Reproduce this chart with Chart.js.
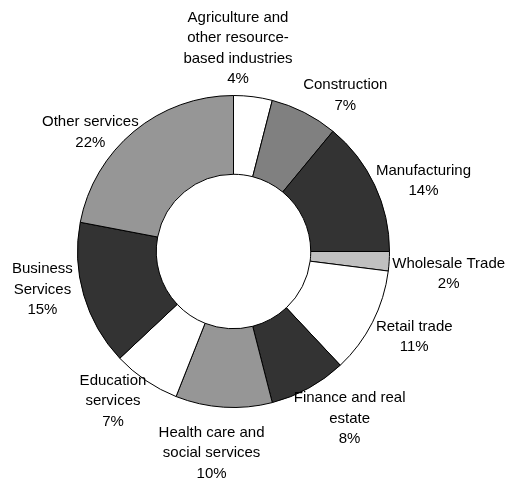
<!DOCTYPE html>
<html>
<head>
<meta charset="utf-8">
<script src="https://cdn.jsdelivr.net/npm/chart.js@4/dist/chart.umd.min.js"></script>
<style>
  html, body { margin: 0; padding: 0; background: #fff; }
  #wrap { width: 507px; height: 480px; position: relative; }
</style>
</head>
<body>
<div id="wrap"><canvas id="industryChart"></canvas></div>
<script>
// Share of employment by industry (%)
const industries = [
    ['Agriculture and', 'other resource-', 'based industries'],
    ['Construction'],
    ['Manufacturing'],
    ['Wholesale Trade'],
    ['Retail trade'],
    ['Finance and real', 'estate'],
    ['Health care and', 'social services'],
    ['Education', 'services'],
    ['Business', 'Services'],
    ['Other services']
];
const shares = [4, 7, 14, 2, 11, 8, 10, 7, 15, 22];
const sliceColors = ['#ffffff', '#808080', '#333333', '#c0c0c0', '#ffffff',
                     '#333333', '#969696', '#ffffff', '#333333', '#969696'];

// hand tweaks so labels sit where they read best
const labelNudge = [[-21, -1], [24, 16], [2, 18], [2, 9], [3, -5],
                    [15, -17], [-10, 12], [-8, -16], [-5, -16], [-14, 37]];

const outsideLabels = {
    id: 'outsideLabels',
    afterDatasetsDraw(chart) {
        const ctx = chart.ctx;
        const meta = chart.getDatasetMeta(0);
        const lh = 20.5;
        ctx.save();
        ctx.font = '15px "Liberation Sans", Arial, sans-serif';
        ctx.fillStyle = '#000';
        ctx.textAlign = 'center';
        ctx.textBaseline = 'middle';
        meta.data.forEach((arc, i) => {
            const lines = industries[i].concat([shares[i] + '%']);
            const w = Math.max(...lines.map(l => ctx.measureText(l).width));
            const h = lines.length * lh;
            const mid = (arc.startAngle + arc.endAngle) / 2;
            const s = Math.cos(mid), c = Math.sin(mid);
            const d = arc.outerRadius + Math.abs(s) * w / 2 + Math.abs(c) * h / 2;
            const cx = arc.x + s * d + labelNudge[i][0];
            const cy = arc.y + c * d + labelNudge[i][1];
            lines.forEach((line, k) => {
                ctx.fillText(line, cx, cy + (k - (lines.length - 1) / 2) * lh);
            });
        });
        ctx.restore();
    }
};

new Chart(document.getElementById('industryChart'), {
    type: 'doughnut',
    data: {
        labels: industries.map(l => l.join(' ')),
        datasets: [{
            data: shares,
            backgroundColor: sliceColors,
            borderColor: '#000',
            borderWidth: 1
        }]
    },
    options: {
        responsive: true,
        maintainAspectRatio: false,
        animation: false,
        cutout: '49.5%',
        layout: { padding: { left: 77, right: 117, top: 95, bottom: 72 } },
        plugins: {
            legend: { display: false },
            tooltip: { enabled: false }
        }
    },
    plugins: [outsideLabels]
});
</script>
</body>
</html>
